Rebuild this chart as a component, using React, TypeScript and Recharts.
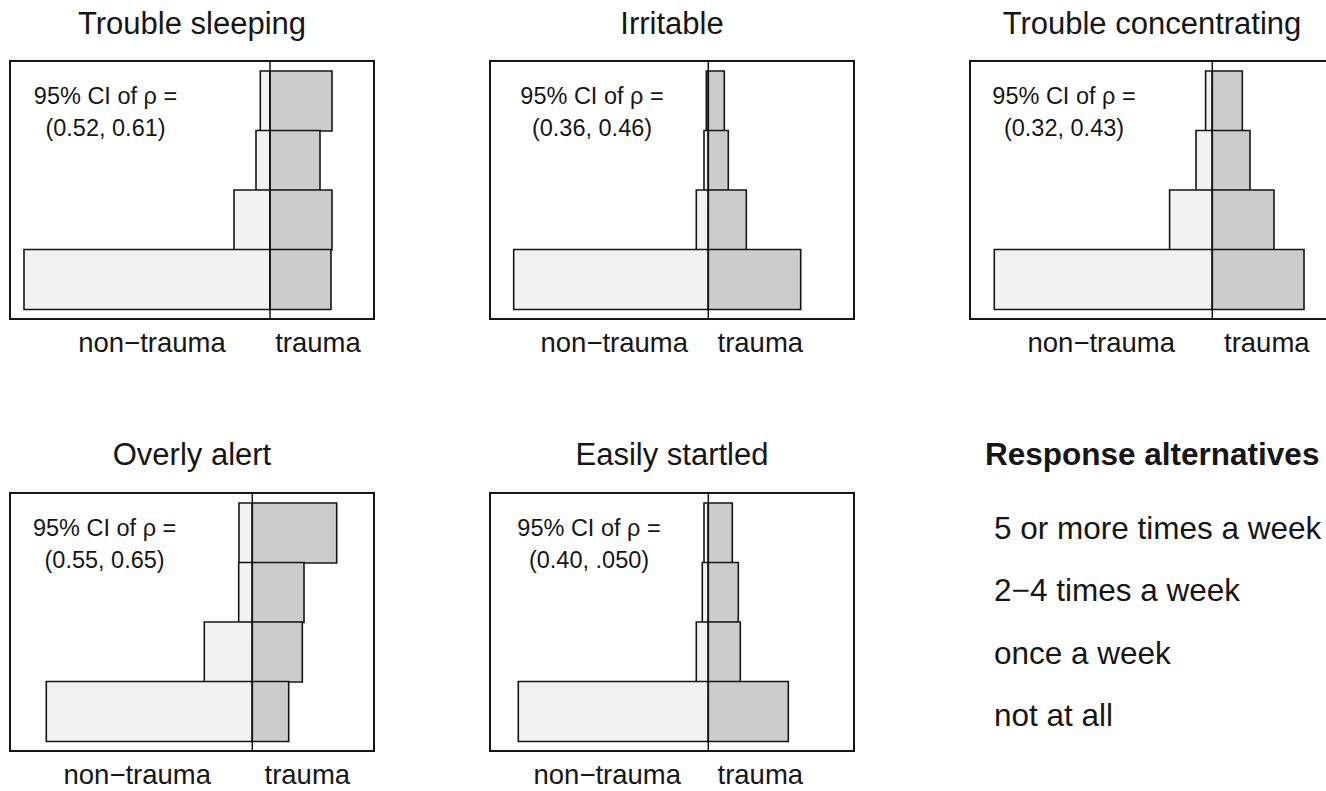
import { BarChart, Bar, XAxis, YAxis, ReferenceArea, ReferenceLine } from "recharts";

// response levels, top row first
const LEVELS = ["5 or more times a week", "2−4 times a week", "once a week", "not at all"];

// bar lengths (chart units) per symptom
const sleepingNon = [9.7, 14, 36, 246];
const sleepingTrauma = [62, 50, 62, 61];
const irritableNon = [2, 4.3, 12, 194.6];
const irritableTrauma = [16, 20, 38, 92.4];
const concentratingNon = [6.7, 16.3, 42.7, 218];
const concentratingTrauma = [30, 37.7, 61.7, 91.7];
const alertNon = [13.3, 13.6, 48, 206];
const alertTrauma = [84.4, 51.7, 50, 36.4];
const startledNon = [4.3, 6, 12, 190];
const startledTrauma = [24, 30, 32, 80];

const TITLES = ["Trouble sleeping", "Irritable", "Trouble concentrating", "Overly alert", "Easily startled"];
const CI_LABELS = ["(0.52, 0.61)", "(0.36, 0.46)", "(0.32, 0.43)", "(0.55, 0.65)", "(0.40, .050)"];

const FONT = "'Liberation Sans', Arial, Helvetica, sans-serif";
const INK = "#161616";
const BOX_W = 364;
const BOX_H = 258;
const PAD = 4;
const AXIS_H = 60;

type PanelSpec = {
  title: string;
  ci: string;
  non: number[];
  trauma: number[];
  left: number;
  top: number;
  xMin: number;
  xMax: number;
  labelAt: number[];
  ciX: number;
};

const panels: PanelSpec[] = [
  { title: TITLES[0], ci: CI_LABELS[0], non: sleepingNon, trauma: sleepingTrauma, left: 10, top: 61, xMin: -260, xMax: 104, labelAt: [-118, 48], ciX: 95.5 },
  { title: TITLES[1], ci: CI_LABELS[1], non: irritableNon, trauma: irritableTrauma, left: 490, top: 61, xMin: -218.3, xMax: 145.7, labelAt: [-94, 52], ciX: 102 },
  { title: TITLES[2], ci: CI_LABELS[2], non: concentratingNon, trauma: concentratingTrauma, left: 970, top: 61, xMin: -242.3, xMax: 121.7, labelAt: [-111, 54.5], ciX: 94 },
  { title: TITLES[3], ci: CI_LABELS[3], non: alertNon, trauma: alertTrauma, left: 10, top: 492.5, xMin: -242.3, xMax: 121.7, labelAt: [-115, 55], ciX: 94.6 },
  { title: TITLES[4], ci: CI_LABELS[4], non: startledNon, trauma: startledTrauma, left: 490, top: 492.5, xMin: -218.3, xMax: 145.7, labelAt: [-101, 52], ciX: 99 },
];

const Panel = ({ p }: { p: PanelSpec }) => {
  const data = LEVELS.map((level, i) => ({ level, nontrauma: -p.non[i], trauma: p.trauma[i] }));
  return (
    <div style={{ position: "absolute", left: p.left - PAD, top: p.top - PAD }}>
      <BarChart
        width={BOX_W + 2 * PAD}
        height={PAD + BOX_H + AXIS_H}
        data={data}
        layout="vertical"
        stackOffset="sign"
        barCategoryGap={0}
        margin={{ top: PAD, right: PAD, bottom: 0, left: PAD }}
      >
        <XAxis
          type="number"
          domain={[p.xMin, p.xMax]}
          ticks={p.labelAt}
          interval={0}
          tickFormatter={(v: number) => (v < 0 ? "non−trauma" : "trauma")}
          axisLine={false}
          tickLine={false}
          tickSize={0}
          tickMargin={13.5}
          height={AXIS_H}
          tick={{ fill: INK, fontSize: 27.5, fontFamily: FONT }}
          allowDataOverflow
        />
        <YAxis type="category" dataKey="level" hide padding={{ top: 10, bottom: 10 }} />
        {/* unpadded index axis, only used to draw the frame round the whole plot */}
        <YAxis yAxisId="frame" hide />
        <ReferenceArea
          yAxisId="frame"
          x1={p.xMin}
          x2={p.xMax}
          y1={0}
          y2={LEVELS.length - 1}
          fill="none"
          fillOpacity={0}
          stroke={INK}
          strokeWidth={2}
        />
        <Bar dataKey="nontrauma" stackId="s" fill="#f2f2f2" stroke={INK} strokeWidth={1.6} isAnimationActive={false} />
        <Bar dataKey="trauma" stackId="s" fill="#cccccc" stroke={INK} strokeWidth={1.6} isAnimationActive={false} />
        <ReferenceLine x={0} stroke={INK} strokeWidth={1.5} />
      </BarChart>
    </div>
  );
};

export default function App() {
  return (
    <div
      style={{
        position: "absolute",
        left: 0,
        top: 0,
        width: 1326,
        height: 791,
        overflow: "hidden",
        background: "#fff",
        fontFamily: FONT,
      }}
    >
      {panels.map((p) => (
        <Panel key={p.title} p={p} />
      ))}
      <svg width={1326} height={791} style={{ position: "absolute", left: 0, top: 0, pointerEvents: "none" }}>
        {panels.map((p) => (
          <g key={p.title} fill={INK} fontFamily={FONT}>
            <text x={p.left + BOX_W / 2} y={p.top - 27.5} textAnchor="middle" fontSize={31}>
              {p.title}
            </text>
            <text x={p.left + p.ciX} y={p.top + 43} textAnchor="middle" fontSize={23.5}>
              95% CI of ρ =
            </text>
            <text x={p.left + p.ciX} y={p.top + 75} textAnchor="middle" fontSize={23.5}>
              {p.ci}
            </text>
          </g>
        ))}
        <g fill={INK} fontFamily={FONT}>
          <text x={985} y={465} fontSize={31.5} fontWeight="bold">
            Response alternatives
          </text>
          {LEVELS.map((lvl, i) => (
            <text key={lvl} x={994} y={539.3 + i * 62.1} fontSize={31.5}>
              {lvl}
            </text>
          ))}
        </g>
      </svg>
    </div>
  );
}
